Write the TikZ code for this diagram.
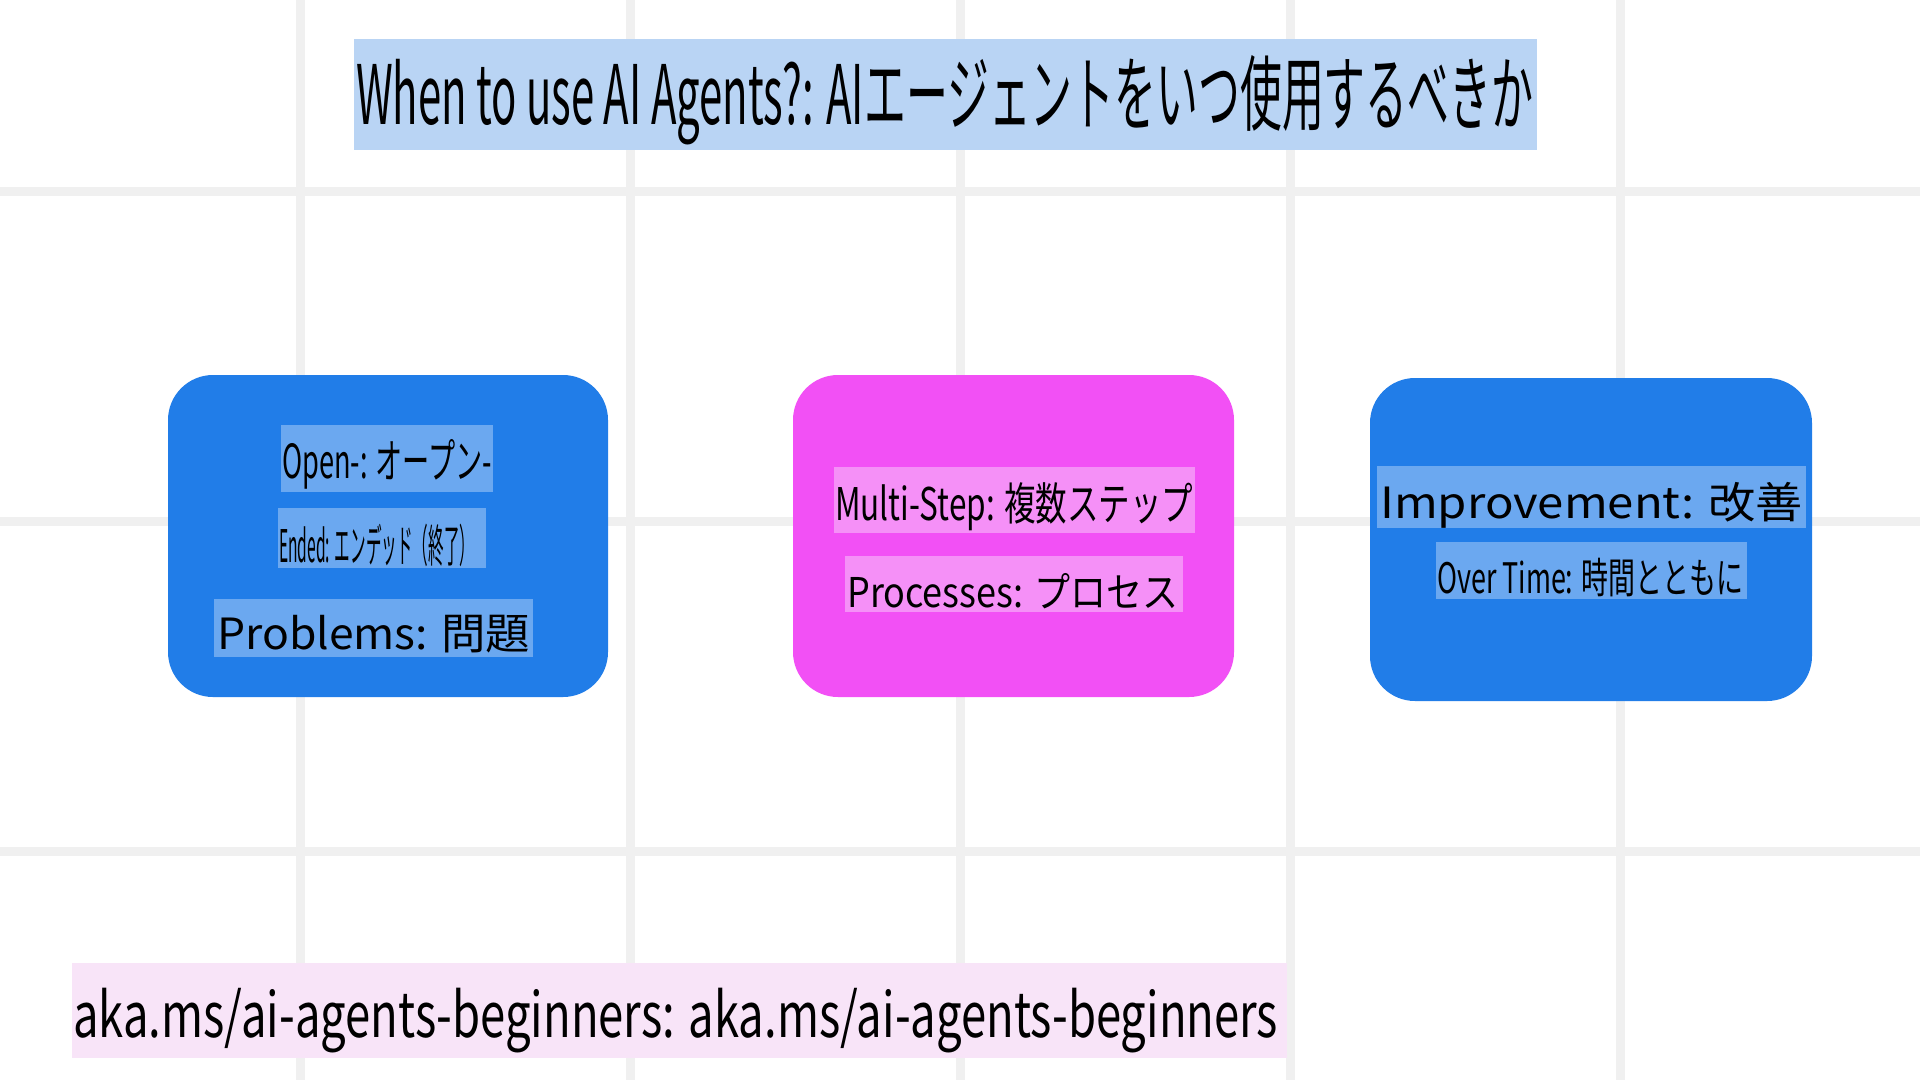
\documentclass[tikz,border=0pt]{standalone}
\usepackage{fontspec}
\setmainfont{Noto Sans CJK JP}
\usetikzlibrary{positioning}
\definecolor{gridc}{HTML}{F0F0F0}
\definecolor{boxblue}{HTML}{217DE8}
\definecolor{hlblue}{HTML}{6BA8F0}
\definecolor{titlebg}{HTML}{B9D4F4}
\definecolor{boxmag}{HTML}{F250F5}
\definecolor{hlmag}{HTML}{F590F7}
\definecolor{bannerbg}{HTML}{F8E4F8}
\newsavebox\fitbox
\newcommand\fitx[3]{\sbox\fitbox{\fontsize{#2pt}{#2pt}\selectfont #3}\pgfmathsetmacro\fitk{#1/(\the\wd\fitbox)}\scalebox{\fitk}[1]{\usebox\fitbox}}
\tikzset{
  gridline/.style={draw=gridc, line width=9pt},
  card/.style={rectangle, rounded corners=45pt, inner sep=0pt},
  hl/.style={rectangle, inner sep=0pt},
  txt/.style={anchor=base west, inner sep=0pt, text=black},
}
\begin{document}
\begin{tikzpicture}[x=1pt,y=-1pt]
\useasboundingbox (0,0) rectangle (1920,1080);
\fill[white] (0,0) rectangle (1920,1080);
% grid
\foreach \gx in {300,630,960,1290,1620} \draw[gridline] (\gx,0) -- (\gx,1080);
\foreach \gy in {191,521,851} \draw[gridline] (0,\gy) -- (1920,\gy);
% title
\node[hl, fill=titlebg, minimum width=1183pt, minimum height=111pt] (title) at (945.5,94.5) {};
\node[txt] (titletext) at (356,124) {\fitx{1177}{82}{When to use AI Agents?: AIエージェントをいつ使用するべきか}};
% cards
\node[card, fill=boxblue, minimum width=440pt, minimum height=322pt] (b1) at (388,536) {};
\node[card, fill=boxmag, minimum width=441pt, minimum height=322pt] (b2) at (1013.5,536) {};
\node[card, fill=boxblue, minimum width=442pt, minimum height=323pt] (b3) at (1591,539.5) {};
% card 1
\node[hl, fill=hlblue, minimum width=212pt, minimum height=67pt] (h1a) at (387,458.5) {};
\node[txt] (t1a) at (282,478) {\fitx{210}{47}{Open-: オープン-}};
\node[hl, fill=hlblue, minimum width=208pt, minimum height=60pt] (h1b) at (382,538) {};
\node[txt] (t1b) at (279,562) {\fitx{196}{45}{Ended: エンデッド（終了）}};
\node[hl, fill=hlblue, minimum width=319pt, minimum height=58pt] (h1c) at (373.5,628) {};
\node[txt] (t1c) at (217,649) {\fitx{313}{43}{Problems: 問題}};
% card 2
\node[hl, fill=hlmag, minimum width=361pt, minimum height=66pt] (h2a) at (1014.5,500) {};
\node[txt] (t2a) at (835,520) {\fitx{358}{45}{Multi-Step: 複数ステップ}};
\node[hl, fill=hlmag, minimum width=338pt, minimum height=56pt] (h2b) at (1014,584) {};
\node[txt] (t2b) at (847,607) {\fitx{331}{41}{Processes: プロセス}};
% card 3
\node[hl, fill=hlblue, minimum width=429pt, minimum height=62pt] (h3a) at (1591.5,497) {};
\node[txt] (t3a) at (1380,518) {\fitx{423}{43}{Improvement: 改善}};
\node[hl, fill=hlblue, minimum width=311pt, minimum height=57pt] (h3b) at (1591.5,570.5) {};
\node[txt] (t3b) at (1437,593) {\fitx{306}{42}{Over Time: 時間とともに}};
% banner
\node[hl, fill=bannerbg, minimum width=1215pt, minimum height=95pt] (banner) at (679.5,1010.5) {};
\node[txt] (bannertext) at (73,1037) {\fitx{1205}{62}{aka.ms/ai-agents-beginners: aka.ms/ai-agents-beginners}};
\end{tikzpicture}
\end{document}
